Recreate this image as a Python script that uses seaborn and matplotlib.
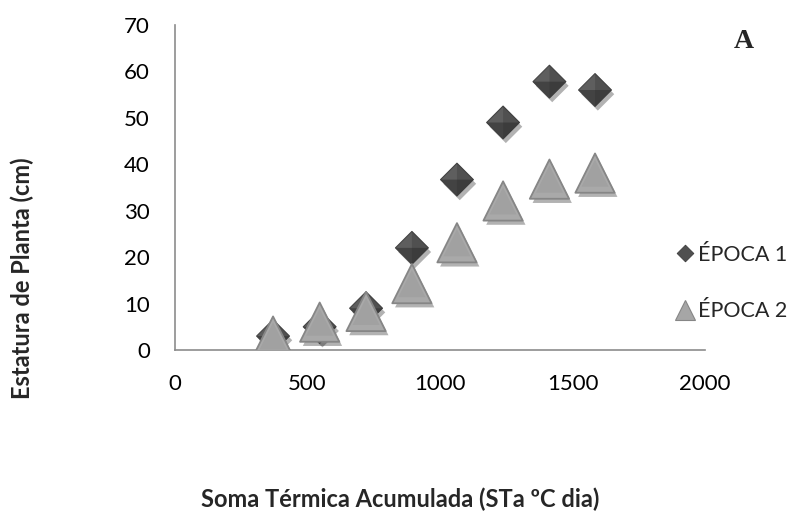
import matplotlib
matplotlib.use("Agg")
import matplotlib.pyplot as plt
import matplotlib.patheffects as pe
from matplotlib.path import Path
from matplotlib.lines import Line2D
import seaborn as sns
import pandas as pd

# Data
soma_termica = [370, 546, 721, 894, 1064, 1238, 1413, 1585]
epoca1 = [3, 5, 9, 22, 36.7, 49, 57.8, 56]
epoca2 = [3, 6, 8.3, 14.3, 23.1, 32.1, 36.8, 38.1]
series_names = ["ÉPOCA 1", "ÉPOCA 2"]
x_ticks = [0, 500, 1000, 1500, 2000]
y_ticks = [0, 10, 20, 30, 40, 50, 60, 70]

df = pd.DataFrame({
    "x": soma_termica * 2,
    "y": epoca1 + epoca2,
    "serie": [series_names[0]] * len(epoca1) + [series_names[1]] * len(epoca2),
})

sns.set_theme(style="white")
plt.rcParams["font.family"] = ["Lato", "DejaVu Sans"]

fig = plt.figure(figsize=(7.89, 5.18), dpi=100)
ax = fig.add_axes([175/789, 1-350/518, (705-175)/789, (350-25)/518])

shadow = [pe.SimplePatchShadow(offset=(2, -3), shadow_rgbFace="#000000", alpha=0.3), pe.Normal()]

# marker shapes (style only)
diamond = Path([(0, 1), (1, 0), (0, -1), (-1, 0), (0, 1)], closed=True)
diamond_low = Path([(-1, 0), (1, 0), (0, -1), (-1, 0)], closed=True)
diamond_right = Path([(0, 1), (1, 0), (0, -1), (0, 1)], closed=True)

d1 = df[df.serie == series_names[0]]
d2 = df[df.serie == series_names[1]]
sns.scatterplot(data=d1, x="x", y="y", marker=diamond, s=560, color="#5e5e5e",
                edgecolor="#444444", linewidth=0.8, ax=ax, zorder=3)
ax.collections[-1].set_path_effects(shadow)
sns.scatterplot(data=d1, x="x", y="y", marker=diamond_low, s=560, color="#3f3f3f",
                edgecolor="none", linewidth=0, ax=ax, zorder=3.1, alpha=0.85)
sns.scatterplot(data=d1, x="x", y="y", marker=diamond_right, s=560, color="#2a2a2a",
                edgecolor="none", linewidth=0, ax=ax, zorder=3.2, alpha=0.25)
sns.scatterplot(data=d2, x="x", y="y", marker="^", s=800, color="#a9a9a9",
                edgecolor="#868686", linewidth=1.3, ax=ax, zorder=4)
ax.collections[-1].set_path_effects(shadow)
sns.scatterplot(data=d2, x="x", y="y", marker="^", s=380, color="#9c9c9c",
                edgecolor="none", linewidth=0, ax=ax, zorder=4.1, alpha=0.6)

ax.set_xlim(0, 2000)
ax.set_ylim(0, 70)
ax.set_xticks(x_ticks)
ax.set_yticks(y_ticks)
ax.tick_params(axis="both", length=0, labelsize=16, colors="#000000")
ax.tick_params(axis="x", pad=17)
ax.tick_params(axis="y", pad=18)
for s in ["top", "right"]:
    ax.spines[s].set_visible(False)
for s in ["left", "bottom"]:
    ax.spines[s].set_color("#8c8c8c")
    ax.spines[s].set_linewidth(1.2)
ax.set_xlabel("")
ax.set_ylabel("")

handles = [
    Line2D([], [], linestyle="none", marker=diamond, markersize=12, markerfacecolor="#505050",
           markeredgecolor="#3c3c3c", markeredgewidth=0.6),
    Line2D([], [], linestyle="none", marker="^", markersize=15, markerfacecolor="#a6a6a6",
           markeredgecolor="#868686", markeredgewidth=0.8),
]
fig.legend(handles, series_names, loc="center left", bbox_to_anchor=(674/789, 1-283/518),
           frameon=False, fontsize=15.5, handletextpad=0.1, labelspacing=1.7,
           borderaxespad=0.0, borderpad=0.0, handlelength=1.0)

fig.text(400/789, 1-499/518, "Soma Térmica Acumulada (STa ºC dia)", ha="center", va="center",
         fontsize=17, fontweight="bold")
fig.text(22/789, 1-278/518, "Estatura de Planta (cm)", ha="center", va="center",
         rotation=90, fontsize=17, fontweight="bold")
fig.text(744/789, 1-41/518, "A", ha="center", va="center", fontsize=20, fontweight="bold",
         family=["Liberation Serif", "DejaVu Serif"])

fig.savefig("out.png", dpi=100)
